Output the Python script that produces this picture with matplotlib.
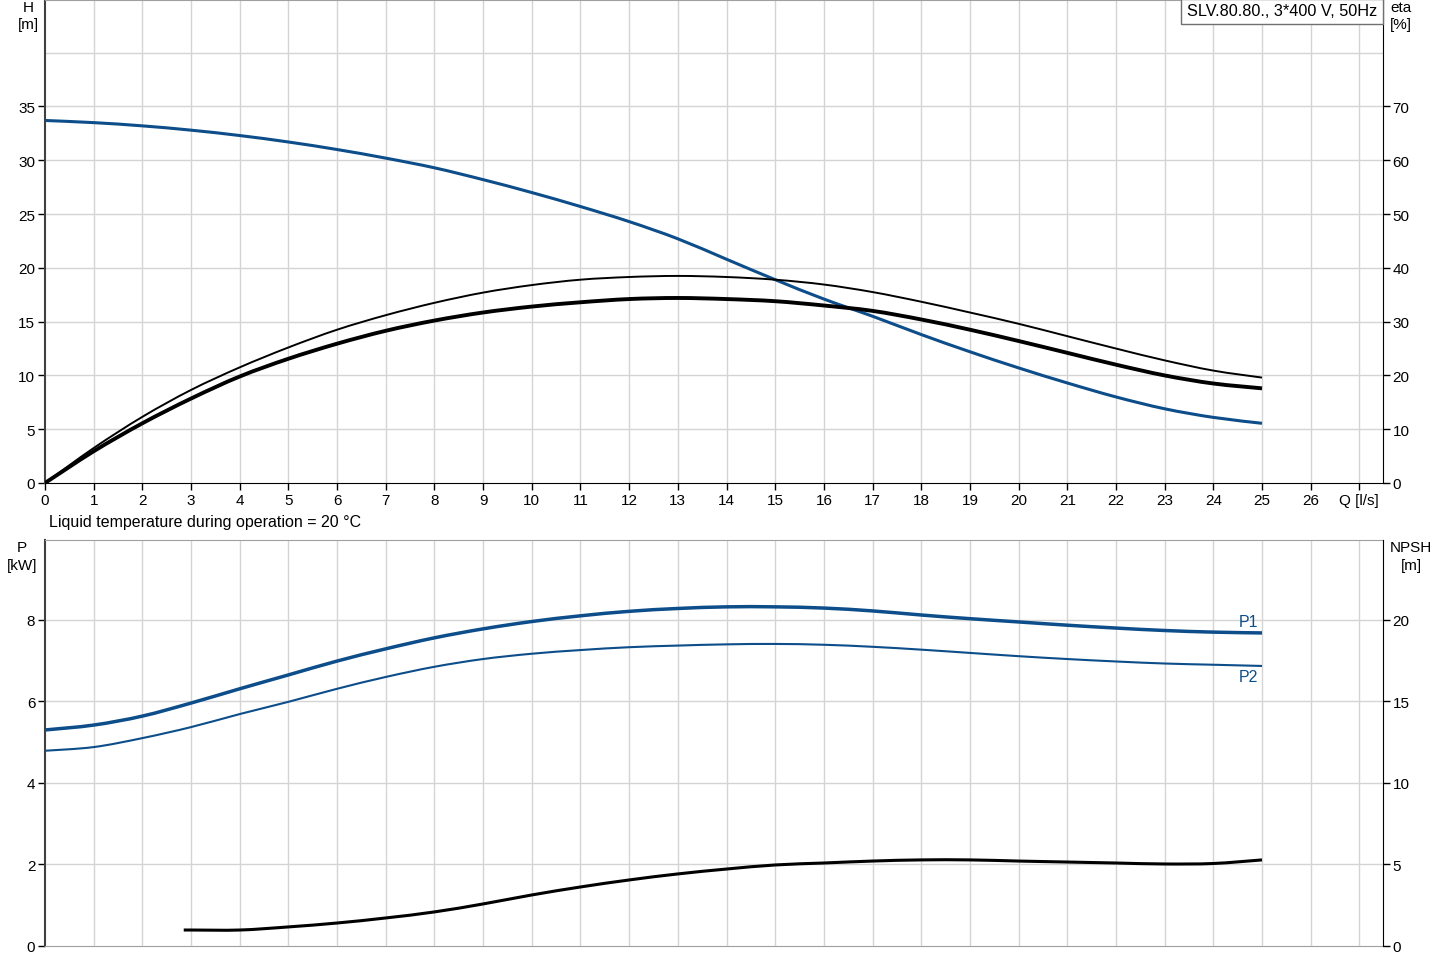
import numpy as np
import matplotlib
matplotlib.use("Agg")
import matplotlib.pyplot as plt
from matplotlib.path import Path
from matplotlib.patches import PathPatch, Rectangle

plt.rcParams['font.family'] = ['Liberation Sans', 'DejaVu Sans']
plt.rcParams['font.size'] = 11

BLUE = '#0c4d8a'
GRID = '#d4d4d4'

# flow [l/s]
q = np.arange(0, 26)

# head H [m]
head = [33.7, 33.5, 33.2, 32.8, 32.3, 31.7, 31.0, 30.2, 29.3, 28.2, 27.0, 25.7,
        24.3, 22.7, 20.8, 18.9, 17.1, 15.5, 13.8, 12.2, 10.7, 9.3, 8.0, 6.9, 6.1, 5.55]

# efficiency curves eta [%]
eta_thin = [0.0, 6.5, 12.3, 17.3, 21.5, 25.2, 28.5, 31.2, 33.5, 35.4, 36.8, 37.8,
            38.3, 38.5, 38.3, 37.8, 36.9, 35.5, 33.7, 31.7, 29.6, 27.3, 25.0, 22.8, 20.9, 19.6]
eta_thick = [0.0, 5.9, 11.1, 15.7, 19.8, 23.1, 25.9, 28.3, 30.2, 31.7, 32.8, 33.6,
             34.2, 34.4, 34.2, 33.8, 33.0, 32.0, 30.4, 28.5, 26.4, 24.2, 22.0, 20.0, 18.5, 17.6]

# power [kW]
p1 = [5.30, 5.42, 5.64, 5.96, 6.31, 6.65, 6.99, 7.29, 7.56, 7.78, 7.96, 8.10,
      8.21, 8.28, 8.32, 8.32, 8.29, 8.22, 8.12, 8.03, 7.95, 7.87, 7.80, 7.74, 7.70, 7.68]
p2 = [4.79, 4.88, 5.10, 5.37, 5.69, 5.99, 6.31, 6.60, 6.85, 7.04, 7.17, 7.26,
      7.33, 7.37, 7.40, 7.41, 7.39, 7.34, 7.27, 7.19, 7.11, 7.04, 6.98, 6.93, 6.90, 6.87]

# NPSH [m]
q_npsh = [2.85, 3, 4, 5, 6, 7, 8, 9, 10, 11, 12, 13, 14, 15, 16, 17, 18, 19, 20, 21, 22, 23, 24, 25]
npsh = [0.98, 0.98, 0.98, 1.17, 1.41, 1.72, 2.09, 2.58, 3.13, 3.62, 4.05, 4.42, 4.72,
        4.97, 5.09, 5.21, 5.28, 5.28, 5.21, 5.15, 5.09, 5.03, 5.06, 5.28]

W, H = 1442, 970
fig = plt.figure(figsize=(W / 100, H / 100), dpi=100)


def frac(x0, y0, x1, y1):
    return [x0 / W, 1 - y1 / H, (x1 - x0) / W, (y1 - y0) / H]


def smooth_line(ax, xs, ys, **kw):
    # catmull-rom through the read points, drawn as bezier segments
    p = np.column_stack([xs, ys]).astype(float)
    verts = [p[0]]
    codes = [Path.MOVETO]
    n = len(p)
    for i in range(n - 1):
        p0 = p[i - 1] if i > 0 else p[i]
        p3 = p[i + 2] if i + 2 < n else p[i + 1]
        c1 = p[i] + (p[i + 1] - p0) / 6
        c2 = p[i + 1] - (p3 - p[i]) / 6
        verts += [c1, c2, p[i + 1]]
        codes += [Path.CURVE4] * 3
    ax.add_patch(PathPatch(Path(verts, codes), fill=False, capstyle='butt', **kw))


XMAX = 1338 / 48.68


def style(ax):
    ax.set_xlim(0, XMAX)
    for x in range(1, 28):
        ax.axvline(x, color=GRID, lw=1, zorder=0)
    ax.tick_params(direction='out', length=5, width=1, pad=2)

# ---------- top panel: H and eta ----------
ax = fig.add_axes(frac(45, 1, 1383, 484))
style(ax)
ax.set_ylim(0, 44.9)
ax.set_yticks(np.arange(0, 36, 5))
for y in np.arange(5, 45, 5):
    ax.axhline(y, color=GRID, lw=1, zorder=0)
ax.set_xticks(np.arange(0, 28))
ax.set_xticklabels([str(i) for i in range(27)] + ['Q [l/s]'])
smooth_line(ax, q, head, color=BLUE, lw=2.2, zorder=3)
ax.spines['top'].set_color('#a0a0a0')
ax.spines['left'].set_color('#404040')
ax.spines['left'].set_linewidth(1.5)
ax.spines['right'].set_visible(False)

ax_eta = ax.twinx()
ax_eta.set_ylim(0, 89.8)
ax_eta.set_yticks(np.arange(0, 71, 10))
ax_eta.tick_params(direction='out', length=5, width=1, pad=2)
for s in ['top', 'left', 'bottom']:
    ax_eta.spines[s].set_visible(False)
smooth_line(ax_eta, q, eta_thin, color='black', lw=1.4, zorder=3)
smooth_line(ax_eta, q, eta_thick, color='black', lw=2.8, zorder=3)

fig.text(28 / W, 1 - 8 / H, 'H', ha='center', va='center')
fig.text(28 / W, 1 - 25 / H, '[m]', ha='center', va='center')
fig.text(1401 / W, 1 - 8 / H, 'eta', ha='center', va='center')
fig.text(1401 / W, 1 - 25 / H, '[%]', ha='center', va='center')

# title box in the top right corner
fig.add_artist(Rectangle((1181 / W, 1 - 25 / H), 202 / W, 25 / H, transform=fig.transFigure,
                         fc='white', ec='#707070', lw=1, zorder=5))
fig.text(1282 / W, 1 - 12 / H, 'SLV.80.80., 3*400 V, 50Hz', ha='center', va='center',
         fontsize=11.7, zorder=6)
fig.text(49 / W, 1 - 523 / H, 'Liquid temperature during operation = 20 °C',
         ha='left', va='center', fontsize=11.5)

# ---------- bottom panel: P and NPSH ----------
ax2 = fig.add_axes(frac(45, 541, 1383, 947))
style(ax2)
ax2.set_ylim(0, 9.96)
ax2.set_yticks(np.arange(0, 9, 2))
for y in np.arange(2, 9, 2):
    ax2.axhline(y, color=GRID, lw=1, zorder=0)
ax2.set_xticks([])
smooth_line(ax2, q, p1, color=BLUE, lw=2.5, zorder=3)
smooth_line(ax2, q, p2, color=BLUE, lw=1.5, zorder=3)
ax2.text(24.73, 7.95, 'P1', color=BLUE, ha='center', va='center', fontsize=11.5)
ax2.text(24.73, 6.6, 'P2', color=BLUE, ha='center', va='center', fontsize=11.5)
ax2.spines['top'].set_color('#a0a0a0')
ax2.spines['bottom'].set_color('#a0a0a0')
ax2.spines['left'].set_color('#404040')
ax2.spines['left'].set_linewidth(1.5)
ax2.spines['right'].set_visible(False)

ax_np = ax2.twinx()
ax_np.set_ylim(0, 24.9)
ax_np.set_yticks(np.arange(0, 21, 5))
ax_np.tick_params(direction='out', length=5, width=1, pad=2)
for s in ['top', 'left', 'bottom']:
    ax_np.spines[s].set_visible(False)
smooth_line(ax_np, q_npsh, npsh, color='black', lw=2.2, zorder=3)

fig.text(22 / W, 1 - 548 / H, 'P', ha='center', va='center')
fig.text(22 / W, 1 - 566 / H, '[kW]', ha='center', va='center')
fig.text(1411 / W, 1 - 548 / H, 'NPSH', ha='center', va='center')
fig.text(1411 / W, 1 - 566 / H, '[m]', ha='center', va='center')

fig.savefig('out.png', dpi=100, facecolor='white')
